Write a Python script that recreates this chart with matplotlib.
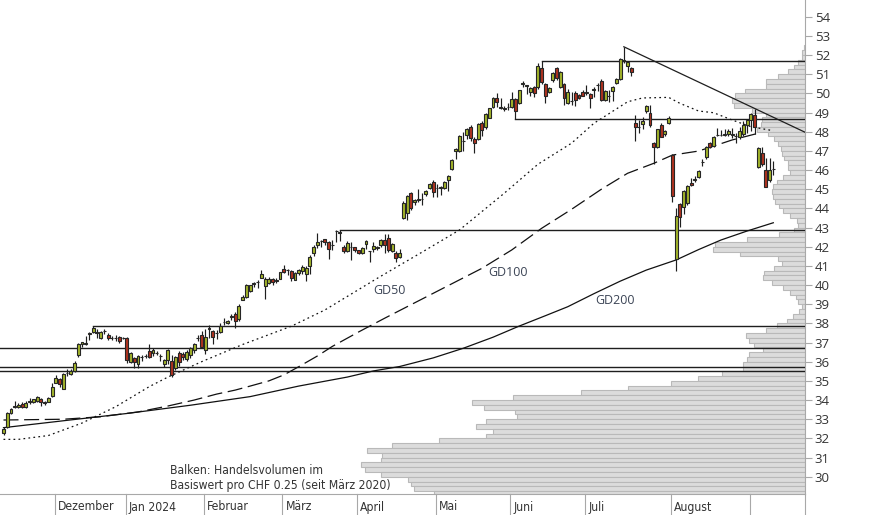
import numpy as np
import pandas as pd
import matplotlib
matplotlib.use("Agg")
import matplotlib.pyplot as plt
from matplotlib import transforms
from matplotlib.font_manager import FontProperties, findfont
from matplotlib.lines import Line2D

# ---------------- data ----------------
holidays = ["2023-12-25", "2023-12-26", "2024-01-01", "2024-01-02", "2024-03-29",
            "2024-04-01", "2024-05-01", "2024-05-09", "2024-05-20", "2024-08-01"]
dates = pd.bdate_range("2023-11-13", "2024-09-10", freq="C", holidays=holidays)

open_ = [32.30, 32.60, 33.30, 33.63, 33.64, 33.81, 33.65, 33.92, 33.88, 33.93,
         34.04, 33.90, 33.90, 34.23, 34.90, 35.11, 34.56, 35.40, 35.36, 35.53,
         36.37, 36.91, 36.95, 37.46, 37.57, 37.52, 37.25, 37.58, 37.39, 37.24,
         37.26, 37.29, 37.24, 37.22, 36.00, 36.21, 35.88, 36.25, 36.30, 36.56,
         36.47, 36.46, 36.29, 35.88, 36.09, 36.06, 35.66, 36.44, 36.40, 36.13,
         36.33, 36.61, 37.24, 37.39, 36.61, 37.73, 37.62, 37.50, 37.57, 38.06,
         38.04, 38.34, 38.49, 38.21, 39.22, 39.36, 39.69, 40.08, 40.16, 40.38,
         39.95, 40.11, 40.30, 40.28, 40.33, 40.82, 40.76, 40.73, 40.26, 40.61,
         40.75, 40.58, 41.00, 41.69, 42.10, 42.30, 42.38, 42.25, 42.08, 42.81,
         42.74, 41.97, 41.79, 41.97, 41.97, 41.83, 41.69, 42.13, 41.77, 41.90,
         41.94, 42.10, 42.37, 42.48, 41.78, 41.69, 41.45, 43.51, 43.75, 44.79,
         44.32, 44.46, 44.49, 44.73, 45.08, 45.39, 45.05, 45.07, 45.08, 45.48,
         46.04, 47.00, 47.01, 47.52, 47.83, 48.26, 47.60, 47.60, 48.44, 48.23,
         48.73, 49.30, 49.74, 49.25, 49.25, 49.28, 49.30, 49.69, 49.48, 50.50,
         50.38, 50.09, 50.31, 50.31, 51.31, 50.47, 50.09, 50.70, 51.31, 50.35,
         50.47, 49.48, 49.60, 50.00, 49.91, 50.05, 50.04, 49.95, 50.20, 50.42,
         50.66, 49.65, 49.85, 50.14, 50.56, 50.73, 51.70, 51.43, 51.31, 48.44,
         48.22, 48.39, 49.08, 48.99, 47.39, 47.18, 48.33, 47.88, 48.47, 46.80,
         41.34, 44.23, 44.09, 44.27, 45.34, 45.50, 45.65, 46.42, 46.66, 47.39,
         47.25, 47.82, 47.82, 47.84, 47.86, 47.85, 47.78, 47.74, 47.88, 48.35,
         48.61, 48.87, 46.14, 46.87, 46.00, 45.48, 46.03]

high = [32.61, 33.40, 33.60, 33.97, 33.86, 33.90, 33.95, 34.09, 34.07, 34.20,
        34.10, 33.97, 34.15, 34.87, 35.33, 35.17, 35.40, 35.60, 35.60, 36.05,
        37.00, 37.05, 37.34, 37.57, 37.85, 37.70, 37.60, 37.69, 37.48, 37.36,
        37.39, 37.33, 37.30, 37.30, 36.53, 36.27, 36.35, 36.35, 36.40, 36.90,
        36.70, 36.56, 36.40, 36.12, 36.65, 36.35, 36.30, 36.56, 36.50, 36.60,
        36.78, 36.96, 37.39, 37.62, 37.73, 37.91, 37.67, 37.65, 38.00, 38.26,
        38.20, 38.49, 38.60, 39.00, 39.47, 40.05, 40.00, 40.17, 40.26, 40.78,
        40.40, 40.40, 40.35, 40.35, 40.70, 41.04, 40.85, 40.80, 40.70, 40.84,
        41.05, 41.00, 41.55, 42.08, 42.70, 42.35, 42.40, 42.30, 42.35, 42.85,
        42.86, 42.10, 42.30, 42.26, 42.00, 41.85, 42.00, 42.35, 41.80, 42.26,
        42.05, 42.42, 42.65, 42.65, 42.20, 41.80, 41.90, 44.37, 44.70, 44.85,
        44.50, 45.00, 44.80, 44.95, 45.30, 45.50, 45.27, 45.15, 45.45, 45.75,
        46.55, 47.15, 47.82, 48.00, 48.20, 48.33, 47.70, 48.45, 48.55, 48.95,
        49.25, 49.80, 50.00, 49.74, 49.35, 49.50, 50.09, 49.75, 50.20, 50.65,
        50.45, 50.35, 50.40, 51.57, 51.67, 50.55, 50.35, 51.12, 51.35, 51.18,
        50.55, 50.25, 50.05, 50.10, 49.95, 50.15, 50.43, 50.00, 50.35, 50.55,
        50.75, 50.15, 50.15, 50.40, 50.80, 51.85, 52.43, 51.70, 51.35, 48.87,
        48.60, 48.78, 49.40, 49.39, 47.45, 48.15, 48.45, 48.10, 48.82, 46.85,
        44.00, 44.30, 44.95, 45.20, 45.60, 45.70, 46.00, 46.60, 47.25, 47.45,
        47.80, 48.20, 48.10, 48.15, 48.15, 48.20, 47.95, 48.25, 48.55, 48.66,
        49.00, 49.17, 47.20, 47.20, 46.65, 46.65, 46.45]

low = [32.18, 32.55, 33.25, 33.60, 33.60, 33.60, 33.60, 33.80, 33.86, 33.88,
       33.70, 33.75, 33.88, 34.17, 34.87, 34.70, 34.56, 35.27, 35.30, 35.48,
       36.23, 36.75, 36.87, 37.13, 37.48, 37.22, 37.20, 37.43, 37.15, 37.13,
       37.08, 37.00, 37.18, 35.93, 35.95, 35.66, 35.66, 36.04, 36.20, 36.20,
       36.30, 36.35, 36.05, 35.75, 35.90, 35.20, 35.57, 35.80, 36.10, 36.05,
       36.20, 36.45, 37.10, 36.70, 36.40, 37.22, 36.90, 37.17, 37.50, 37.91,
       37.95, 38.18, 37.75, 38.14, 39.20, 39.30, 39.65, 39.91, 39.83, 40.35,
       39.27, 40.05, 39.98, 40.10, 40.30, 40.65, 40.52, 40.20, 40.26, 40.50,
       40.60, 40.20, 40.60, 41.50, 41.92, 42.00, 42.10, 41.35, 41.83, 42.26,
       42.31, 41.65, 41.70, 41.31, 41.75, 41.60, 41.60, 41.88, 41.22, 41.75,
       41.85, 41.96, 41.65, 41.70, 41.70, 41.22, 41.40, 43.44, 43.40, 43.93,
       44.20, 44.35, 44.15, 44.65, 45.00, 44.60, 44.60, 44.70, 45.00, 44.90,
       46.00, 46.60, 46.95, 47.01, 47.60, 47.50, 46.90, 47.55, 47.80, 48.15,
       48.70, 49.25, 49.30, 49.20, 49.10, 49.15, 49.25, 48.67, 49.45, 50.35,
       49.95, 49.85, 49.80, 50.25, 50.50, 49.51, 50.00, 50.60, 50.70, 50.30,
       49.40, 49.45, 49.40, 49.35, 49.70, 49.85, 49.90, 49.22, 49.80, 50.10,
       49.60, 49.60, 49.55, 49.60, 50.50, 50.70, 51.60, 51.13, 50.90, 47.53,
       47.95, 48.12, 49.00, 48.23, 46.31, 47.15, 47.70, 47.75, 48.40, 44.35,
       40.75, 43.04, 43.70, 44.20, 45.15, 45.35, 45.60, 46.20, 46.60, 47.15,
       47.20, 47.75, 47.75, 47.75, 47.75, 47.65, 47.39, 47.60, 47.80, 47.95,
       48.05, 47.88, 46.10, 46.20, 45.10, 45.40, 45.75]

close = [32.49, 33.35, 33.55, 33.70, 33.76, 33.65, 33.86, 33.95, 34.04, 34.14,
         33.88, 33.85, 34.09, 34.70, 35.17, 34.84, 35.36, 35.42, 35.53, 35.92,
         36.91, 37.01, 36.97, 37.48, 37.74, 37.54, 37.55, 37.60, 37.25, 37.26,
         37.24, 37.08, 37.26, 36.10, 36.44, 35.98, 36.30, 36.27, 36.32, 36.26,
         36.61, 36.48, 36.31, 36.09, 36.61, 35.31, 36.26, 35.96, 36.25, 36.53,
         36.70, 36.91, 37.26, 36.75, 37.30, 37.75, 37.30, 37.52, 37.86, 38.08,
         38.14, 38.36, 38.14, 38.91, 39.39, 40.00, 39.98, 40.10, 40.18, 40.56,
         40.30, 40.30, 40.18, 40.20, 40.68, 40.70, 40.77, 40.35, 40.65, 40.78,
         40.94, 40.87, 41.45, 41.98, 42.26, 42.32, 42.26, 41.90, 42.10, 42.83,
         42.76, 41.79, 42.18, 41.99, 41.83, 41.66, 41.93, 42.30, 41.79, 42.04,
         41.96, 42.37, 42.10, 41.83, 42.14, 41.40, 41.69, 44.30, 44.62, 44.04,
         44.44, 44.48, 44.51, 44.90, 45.27, 44.87, 45.07, 45.09, 45.39, 45.70,
         46.52, 47.10, 47.78, 47.54, 48.12, 47.65, 47.39, 48.39, 48.09, 48.90,
         49.22, 49.74, 49.56, 49.28, 49.17, 49.31, 49.69, 49.10, 50.17, 50.53,
         50.41, 50.26, 50.03, 51.43, 50.61, 49.86, 50.26, 51.08, 50.78, 51.13,
         49.74, 50.05, 49.62, 49.65, 49.77, 49.88, 50.06, 49.74, 50.22, 50.44,
         49.65, 50.12, 49.87, 50.31, 50.73, 51.78, 51.74, 51.62, 51.13, 48.26,
         48.24, 48.56, 49.34, 48.35, 47.22, 48.12, 47.74, 48.03, 48.70, 44.65,
         43.60, 43.57, 44.90, 45.17, 45.20, 45.53, 45.97, 46.44, 47.18, 47.22,
         47.74, 47.84, 47.84, 47.86, 48.03, 47.87, 47.80, 48.05, 48.35, 48.61,
         48.92, 48.26, 47.13, 46.30, 45.13, 46.00, 46.06]

# moving averages (trading-day index, value)
gd50_idx = [0, 4, 12, 21, 30, 39, 44, 53, 64, 77, 86, 100, 113, 122, 134, 143,
            152, 158, 167, 171, 178, 181, 186, 190, 195, 200, 206]
gd50_val = [31.95, 31.95, 32.15, 32.80, 33.65, 34.70, 35.20, 36.00, 36.90, 37.85,
            38.70, 40.35, 41.83, 42.87, 44.79, 46.30, 47.40, 48.44, 49.56, 49.76,
            49.79, 49.48, 49.08, 48.99, 48.61, 48.26, 48.05]
gd100_idx = [0, 16, 26, 36, 44, 51, 57, 62, 66, 71, 75, 79, 84, 88, 95, 102,
             115, 128, 136, 144, 152, 160, 167, 174, 179, 186, 195, 202]
gd100_val = [32.96, 33.00, 33.13, 33.38, 33.69, 34.00, 34.31, 34.52, 34.73, 35.00,
             35.31, 35.74, 36.30, 36.80, 37.55, 38.27, 39.57, 40.87, 41.83, 42.96,
             43.95, 45.00, 45.83, 46.35, 46.78, 46.99, 47.57, 47.92]
gd200_idx = [0, 16, 33, 50, 66, 79, 92, 99, 106, 115, 123, 131, 138, 145, 151,
             158, 165, 172, 180, 186, 192, 199, 206]
gd200_val = [32.56, 32.92, 33.30, 33.73, 34.18, 34.73, 35.20, 35.52, 35.75, 36.20,
             36.70, 37.28, 37.86, 38.40, 38.87, 39.55, 40.20, 40.78, 41.31, 41.85,
             42.35, 42.82, 43.25]

# support / resistance levels (price, first trading-day index; -1 = whole chart)
level_price = [51.67, 48.67, 42.86, 37.85, 36.70, 35.71, 35.52]
level_start = [144, 137, 90, 24, -1, -1, -1]
trend_idx = [166, 214.4]
trend_val = [52.43, 47.98]

# volume profile: lower bound of each CHF 0.25 price bin and relative volume
profile_low = [52.25, 52.00, 51.75, 51.50, 51.25, 51.00, 50.75, 50.50, 50.25, 50.00,
               49.75, 49.50, 49.25, 49.00, 48.75, 48.50, 48.25, 48.00, 47.75, 47.50,
               47.25, 47.00, 46.75, 46.50, 46.25, 46.00, 45.75, 45.50, 45.25, 45.00,
               44.75, 44.50, 44.25, 44.00, 43.75, 43.50, 43.25, 43.00, 42.75, 42.50,
               42.25, 42.00, 41.75, 41.50, 41.25, 41.00, 40.75, 40.50, 40.25, 40.00,
               39.75, 39.50, 39.25, 39.00, 38.75, 38.50, 38.25, 38.00, 37.75, 37.50,
               37.25, 37.00, 36.75, 36.50, 36.25, 36.00, 35.75, 35.50, 35.25, 35.00,
               34.75, 34.50, 34.25, 34.00, 33.75, 33.50, 33.25, 33.00, 32.75, 32.50,
               32.25, 32.00, 31.75, 31.50, 31.25, 31.00, 30.75, 30.50, 30.25, 30.00,
               29.75, 29.50, 29.25, 29.00]
profile_vol = [1.5, 3, 3.3, 6.7, 10.7, 16.7, 26.7, 39.3, 39.3, 60,
               70, 72.7, 71, 53.3, 39, 43.3, 44.3, 48.3, 36.7, 31,
               26.7, 24.3, 23.3, 21, 16.7, 16.7, 15, 21.7, 27.7, 32.3,
               33.3, 31.7, 30, 25.7, 21.7, 15, 8.3, 6.7, 11, 25.7,
               57.7, 90, 91.7, 65, 27, 23.3, 31, 41, 41.7, 33.3,
               21.7, 15, 9, 6.7, 3, 5.7, 12.3, 18.3, 27.7, 39,
               59, 55.7, 50.7, 41.7, 55.7, 57.7, 62.3, 62.3, 83.3, 106.7,
               134.3, 176.7, 224.3, 291.7, 333.3, 320.7, 290, 287.7, 319, 329.3,
               312.3, 319, 365.7, 413.3, 437.7, 423.2, 424.3, 444.4, 439.9, 424.3,
               397, 393.6, 391.4, 371.3]

month_labels = ["Dezember", "Jan 2024", "Februar", "März", "April", "Mai",
                "Juni", "Juli", "August", ""]
y_ticks = list(range(30, 55))
ma_labels = ["GD50", "GD100", "GD200"]
ma_label_pos = [(98.9, 39.69), (129.6, 40.63), (158.3, 39.17)]
note_lines = ["Balken: Handelsvolumen im", "Basiswert pro CHF 0.25 (seit März 2020)"]

# ---------------- fonts ----------------
def has_font(name):
    try:
        findfont(FontProperties(family=name), fallback_to_default=False)
        return True
    except Exception:
        return False

regular = "Open Sans" if has_font("Open Sans") else "DejaVu Sans"
narrow_fp = None
for fam, stretch in [("Liberation Sans Narrow", "normal"), ("DejaVu Sans", "condensed"),
                     ("Roboto", "condensed"), ("Roboto", "normal")]:
    try:
        fp = FontProperties(family=fam, stretch=stretch)
        path = findfont(fp, fallback_to_default=False)
        if stretch == "condensed" and "ondensed" not in path:
            continue
        narrow_fp = (fam, stretch)
        break
    except Exception:
        continue
if narrow_fp is None:
    narrow_fp = ("DejaVu Sans", "normal")

# ---------------- figure ----------------
W, H = 874, 515
fig = plt.figure(figsize=(W / 100, H / 100), dpi=100)
fig.patch.set_facecolor("white")

# choose narrow font size so that the note line is as wide as in the reference
probe = fig.text(0, 0, note_lines[1], family=narrow_fp[0], stretch=narrow_fp[1], fontsize=10)
fig.canvas.draw()
wpx = probe.get_window_extent().width
probe.remove()
narrow_size = min(10.5, 10 * 220.0 / wpx)

ax = fig.add_axes([0, 21 / H, 805 / W, 494 / H])
ax2 = ax.twiny()
ax.set_zorder(2)
ax.patch.set_visible(False)
ax2.set_zorder(1)

n = len(close)
x = np.arange(n)
xlim = (-0.937, 214.48)
ax.set_xlim(*xlim)
ax.set_ylim(29.10, 54.87)

# volume profile (grows from the right edge)
ax2.set_xlim(805, 0)
ax2.barh(np.array(profile_low) + 0.125, profile_vol, height=0.25, left=0,
         color="#dcdcdc", edgecolor="#b9b9b9", linewidth=0.8)
ax2.set_xticks([])
for s in ax2.spines.values():
    s.set_visible(False)

# horizontal levels and trend line
for p, s in zip(level_price, level_start):
    xs = xlim[0] if s < 0 else s
    ax.plot([xs, xlim[1]], [p, p], color="#1e1e1e", lw=1.0, zorder=3)
ax.plot(trend_idx, trend_val, color="#1e1e1e", lw=0.9, zorder=3)

# moving averages
ax.plot(gd50_idx, gd50_val, color="#111111", lw=0.9, dashes=(1.4, 2.6), zorder=3)
ax.plot(gd100_idx, gd100_val, color="#111111", lw=0.9, dashes=(12, 4.5), zorder=3)
ax.plot(gd200_idx, gd200_val, color="#111111", lw=0.9, zorder=3)

# candles
o = np.array(open_); c = np.array(close); hi = np.array(high); lo = np.array(low)
up = c >= o
ax.vlines(x, lo, hi, color="#1e1e1e", lw=0.85, zorder=4)
body_lo = np.minimum(o, c)
body_h = np.maximum(np.abs(c - o), 0.015)
ax.bar(x[up], body_h[up], bottom=body_lo[up], width=0.78, color="#a3b52a",
       edgecolor="#262626", linewidth=0.8, zorder=5)
ax.bar(x[~up], body_h[~up], bottom=body_lo[~up], width=0.78, color="#b0321f",
       edgecolor="#262626", linewidth=0.8, zorder=5)

# MA labels
for lab, (lx, ly) in zip(ma_labels, ma_label_pos):
    ax.text(lx, ly, lab, fontsize=9, family=regular, color="#3b4455",
            ha="left", va="center", zorder=6)

# axes styling
axis_grey = "#a8a8a8"
for side in ["left", "top"]:
    ax.spines[side].set_visible(False)
ax.spines["bottom"].set_color(axis_grey)
ax.spines["right"].set_color(axis_grey)
ax.spines["bottom"].set_linewidth(0.8)
ax.spines["right"].set_linewidth(0.8)
ax.set_xticks([])
ax.yaxis.tick_right()
ax.set_yticks(y_ticks)
ax.set_yticklabels([str(t) for t in y_ticks])
ax.tick_params(axis="y", direction="out", length=5, width=0.8, color=axis_grey,
               labelcolor="#333333", labelsize=9.5, pad=2)
for t in ax.get_yticklabels():
    t.set_family(regular)

# month separators & labels
month_first = [i for i in range(1, n) if dates[i].month != dates[i - 1].month]
trans = transforms.blended_transform_factory(ax.transData, ax.transAxes)
below = -21 / 494
for idx, lab in zip(month_first, month_labels):
    xs = idx - 0.35
    ax.add_line(Line2D([xs, xs], [0, below], transform=trans, color=axis_grey,
                       lw=0.8, clip_on=False))
    if lab:
        tt = transforms.offset_copy(trans, fig=fig, x=3, y=0, units="dots")
        ax.text(xs, -13 / 494, lab, transform=tt, fontsize=narrow_size,
                family=narrow_fp[0], stretch=narrow_fp[1],
                color="#333333", ha="left", va="center", clip_on=False)

# right axis line continues through label band
fig.add_artist(Line2D([805 / W, 805 / W], [0, 21 / H], color=axis_grey, lw=0.8))

# note text
fig.text(170 / W, (H - 470) / H, note_lines[0], fontsize=narrow_size, family=narrow_fp[0],
         stretch=narrow_fp[1], color="#333333", ha="left", va="center")
fig.text(170 / W, (H - 485) / H, note_lines[1], fontsize=narrow_size, family=narrow_fp[0],
         stretch=narrow_fp[1], color="#333333", ha="left", va="center")

fig.savefig("out.png", dpi=100, facecolor="white")
